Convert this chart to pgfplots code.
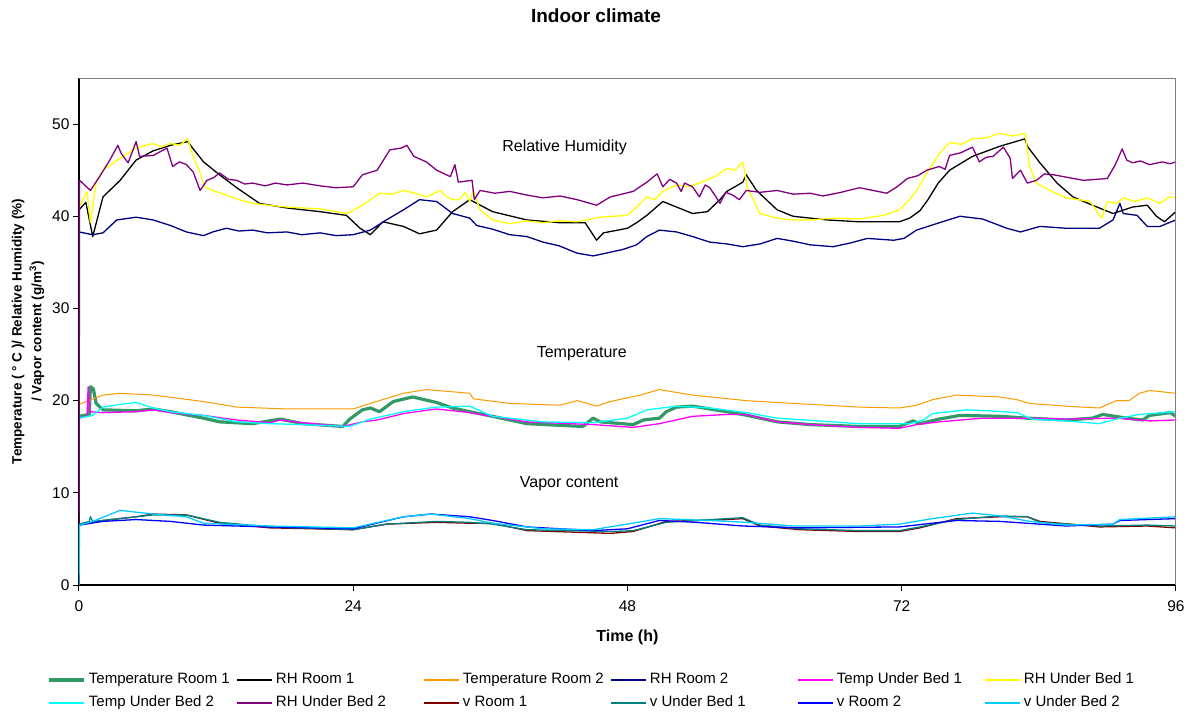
\documentclass[border=0pt]{standalone}
\usepackage{fontspec}
\setmainfont{Liberation Sans}
\usepackage{pgfplots}
\pgfplotsset{compat=1.18}
\usepackage{xcolor}
\definecolor{tempone}{HTML}{339966}
\definecolor{temptwo}{HTML}{FF9900}
\definecolor{rhtwo}{HTML}{000080}
\definecolor{tubone}{HTML}{FF00FF}
\definecolor{rhubone}{HTML}{FFFF00}
\definecolor{tubtwo}{HTML}{00FFFF}
\definecolor{rhubtwo}{HTML}{800080}
\definecolor{vone}{HTML}{800000}
\definecolor{vubone}{HTML}{008080}
\definecolor{vtwo}{HTML}{0000FF}
\definecolor{vubtwo}{HTML}{00CCFF}

\newcommand{\fs}[1]{\fontsize{#1bp}{#1bp}\selectfont}
\newcommand{\lgd}[1]{\makebox[147bp][l]{#1}}

\begin{document}
\begin{tikzpicture}
\useasboundingbox (-79bp,-128bp) rectangle (1113bp,585bp);
\begin{axis}[
  scale only axis,
  width=1097bp, height=507bp,
  anchor=south west, at={(0,0)},
  xmin=0, xmax=96, ymin=0, ymax=55,
  xtick={0,24,48,72,96},
  ytick={0,10,20,30,40,50},
  axis x line*=bottom, axis y line*=left,
  axis line style={-, black, line width=1.1bp},
  tick align=outside,
  major tick length=6bp,
  tick style={black, line width=1bp},
  /pgf/number format/assume math mode=true,
  tick label style={font=\fs{15.5}},
  xticklabel style={yshift=-6bp},
  xlabel={Time (h)},
  xlabel style={font=\bfseries\fs{16}, at={(axis description cs:0.5,-0.1026)}, anchor=center},
  ylabel={Temperature ( ° C )/ Relative Humidity (\%)\\[4bp]/ Vapor content (g/m\textsuperscript{3})},
  ylabel style={font=\bfseries\fs{13.5}, align=center, at={(axis description cs:-0.0465,0.5)}, anchor=center},
  legend columns=6,
  legend style={at={(axis description cs:-0.0292,-0.1735)}, anchor=north west,
    draw=none, fill=none, inner sep=0pt, outer sep=0pt,
    font=\fs{15}, row sep=8.5bp,
    nodes={inner sep=0pt, text height=11bp, text depth=3.5bp},
    cells={anchor=west},
    /tikz/every odd column/.style={column sep=3bp}},
  legend image code/.code={\draw[#1] (0bp,0bp) -- (35bp,0bp);},
  legend image post style={line width=2bp},
  every axis plot/.append style={line width=1.3bp, line join=round},
  clip=true,
]
% Temperature Room 1
\addplot[tempone, line width=3.2bp, legend image post style={line width=4bp}] coordinates {
(0,18.3)(0.9,18.5)(1.0,21.5)(1.25,21.3)(1.5,19.7)(2.1,19.0)(5,18.9)(6.5,19.1)(8,18.8)
(10.9,18.1)(12.3,17.7)(15.2,17.5)(17.6,18.0)(19.6,17.5)(23.1,17.2)(23.7,18.0)(24.8,19.0)
(25.5,19.2)(26.3,18.8)(27.5,19.9)(29.2,20.4)(31.3,19.8)(32.7,19.2)(34.2,18.8)(36.2,18.3)
(39.2,17.5)(44.1,17.2)(45,18.1)(45.6,17.7)(48.5,17.4)(49.4,17.9)(50.8,18.1)(51.4,18.8)
(52.3,19.3)(53.7,19.4)(56.7,18.8)(58.5,18.4)(61.1,17.7)(64,17.4)(68.3,17.2)(71.8,17.2)
(73,17.8)(73.6,17.5)(75.3,18.0)(77.1,18.4)(80.6,18.3)(83,18.1)(86.4,17.9)(88.7,18.1)
(89.6,18.5)(91.7,18.1)(93.1,17.9)(93.7,18.4)(95.5,18.7)(96,18.3)};
\addlegendentry{\lgd{Temperature Room 1}}
% RH Room 1
\addplot[black] coordinates {
(0,40.7)(0.6,41.5)(1.2,37.8)(2.1,42.1)(3.6,43.9)(5,46.1)(6.5,47.1)(8,47.7)(9.5,48.1)
(10.9,45.9)(12.3,44.5)(13.8,43.1)(15.8,41.4)(18.2,40.9)(21.1,40.5)(23.4,40.1)(24.6,38.7)
(25.5,38.0)(26.6,39.4)(28.4,38.9)(29.8,38.1)(31.3,38.5)(32.7,40.5)(34.2,41.8)(36.2,40.5)
(39.2,39.6)(42.1,39.3)(44.3,39.3)(45.3,37.4)(45.9,38.2)(48,38.7)(48.8,39.3)(49.7,40.1)
(51.1,41.6)(52.3,41.0)(53.7,40.3)(55,40.5)(56.1,41.8)(56.7,42.7)(58.1,43.7)(58.4,44.5)
(59.3,42.8)(61.1,40.7)(62.5,40.0)(65.5,39.6)(68.3,39.4)(71.8,39.4)(72.7,39.8)(73.6,40.6)
(74.3,41.8)(75.2,43.6)(76.2,45.0)(78.2,46.5)(80.6,47.6)(82.8,48.4)(83,47.6)(84.1,45.8)
(85.6,43.6)(87,42.1)(88.7,41.2)(90.5,40.3)(92.2,41.0)(93.5,41.2)(94.3,40.0)(95,39.4)(96,40.5)};
\addlegendentry{\lgd{RH Room 1}}
% Temperature Room 2
\addplot[temptwo, line width=1bp] coordinates {
(0,19.6)(2.1,20.6)(3.6,20.8)(6.5,20.6)(10.9,19.9)(13.8,19.3)(18.2,19.1)(24,19.1)(25.5,19.7)
(28.4,20.8)(30.4,21.2)(34.2,20.8)(34.5,20.2)(37.7,19.7)(42.1,19.5)(43.6,20.0)(45.3,19.4)
(46.5,19.9)(49.1,20.6)(50.8,21.2)(53.7,20.6)(58.4,20.0)(62.5,19.7)(68.3,19.3)(71.8,19.2)
(73.3,19.5)(74.7,20.1)(76.8,20.6)(80.6,20.4)(82.1,20.1)(83.2,19.7)(86.4,19.4)(89.3,19.2)
(90.8,20.0)(91.9,20.0)(92.8,20.8)(93.7,21.1)(96,20.8)};
\addlegendentry{\lgd{Temperature Room 2}}
% RH Room 2
\addplot[rhtwo] coordinates {
(0,38.3)(1.2,38.0)(2.1,38.2)(3.3,39.6)(5,39.9)(6.5,39.6)(8,39.0)(9.4,38.3)(10.9,37.9)
(11.7,38.3)(12.9,38.7)(14,38.4)(15.2,38.5)(16.5,38.2)(18.2,38.3)(19.5,38.0)(21.1,38.2)
(22.5,37.9)(24,38.0)(25.5,38.5)(26.9,39.6)(28.4,40.7)(29.8,41.8)(31.3,41.6)(32.7,40.3)
(34.2,39.8)(34.8,39.0)(36.2,38.6)(37.7,38.0)(39.2,37.8)(40.6,37.2)(42,36.8)(43.6,36.0)
(45,35.7)(46.5,36.1)(47.6,36.4)(48.8,36.9)(49.7,37.8)(50.8,38.5)(52.3,38.3)(53.7,37.8)
(55.2,37.2)(56.7,37.0)(58.1,36.7)(59.6,37.0)(61.1,37.6)(62.5,37.3)(64,36.9)(66,36.7)
(67.5,37.1)(69,37.6)(71.3,37.4)(72.2,37.6)(73.3,38.5)(75.3,39.3)(77.1,40.0)(79.1,39.7)
(81.2,38.7)(82.4,38.3)(84.1,38.9)(86.4,38.7)(89.3,38.7)(90.5,39.6)(91.1,41.4)(91.4,40.3)
(92.6,40.1)(93.5,38.9)(94.6,38.9)(96,39.6)};
\addlegendentry{\lgd{RH Room 2}}
% Temp Under Bed 1
\addplot[tubone] coordinates {
(0,18.1)(0.7,18.3)(0.8,21.5)(0.95,18.8)(2.1,18.7)(5,18.8)(6.5,19.0)(8,18.7)(10.9,18.4)
(13.8,17.9)(16.7,17.6)(17.6,17.9)(19.6,17.6)(23.1,17.2)(24.8,17.7)(26.1,17.9)(28.4,18.6)
(31.3,19.1)(34.2,18.7)(36.2,18.3)(39.2,17.7)(45,17.4)(48.5,17.1)(50.8,17.5)(53.7,18.3)
(56.7,18.5)(58.4,18.5)(61.1,17.7)(64,17.4)(68.3,17.1)(71.8,17.0)(73.3,17.4)(75.3,17.7)
(79.1,18.1)(83,18.1)(86.4,18.0)(90.8,18.1)(93.7,17.8)(96,17.9)};
\addlegendentry{\lgd{Temp Under Bed 1}}
% RH Under Bed 1
\addplot[rhubone] coordinates {
(0,41.0)(0.7,42.7)(1.0,39.3)(1.5,43.7)(2.1,45.0)(3.6,46.3)(5,47.4)(6.5,47.9)(7.2,47.5)(8,47.9)
(8.8,47.7)(9.5,48.4)(10,46.5)(10.6,44.7)(11,43.2)(11.7,42.8)(12.9,42.3)(14,41.8)(15.2,41.4)
(16.6,41.2)(18.2,41.0)(19.6,40.9)(21.1,40.8)(23.5,40.3)(24.8,41.2)(26.3,42.5)(27.4,42.4)
(28.4,42.8)(29.4,42.5)(30.4,42.1)(31.6,42.8)(32.1,42.2)(32.7,41.8)(33.3,41.8)(33.8,42.6)
(34.2,41.6)(34.5,42.8)(35.1,40.7)(36.2,39.6)(37.7,39.2)(39.2,39.5)(40.6,39.3)(42.1,39.5)
(43.6,39.4)(45.6,39.9)(48,40.1)(48.8,41.0)(49.7,42.1)(50.4,41.8)(51.1,42.7)(52.3,43.4)
(53.3,43.2)(54.3,43.6)(55.8,44.4)(56.7,45.2)(57.4,45.0)(58.1,45.9)(58.5,43.1)(59.6,40.3)
(61.1,39.8)(62.5,39.6)(64,39.6)(66,39.8)(68.3,39.7)(70.4,40.1)(71.8,40.7)(72.7,41.8)
(73.3,42.8)(74.2,44.7)(75.3,46.8)(76.2,48.0)(77.2,47.8)(78.2,48.4)(79.4,48.5)(80.6,49.0)
(81.7,48.7)(82.8,49.0)(83.2,45.4)(83.8,43.6)(85,42.8)(86.4,42.0)(87.5,41.8)(88.5,41.6)
(89.5,39.8)(90,41.6)(90.8,41.4)(91.4,42.0)(92.4,41.6)(93.5,42.0)(94.6,41.4)(95.4,42.1)(96,42.0)};
\addlegendentry{\lgd{RH Under Bed 1}}
% Temp Under Bed 2
\addplot[tubtwo] coordinates {
(0,18.1)(1.2,18.4)(2.1,19.3)(3.6,19.6)(5,19.8)(6.5,19.2)(8,18.8)(10.9,18.4)(13.8,17.7)
(16.7,17.5)(19.6,17.4)(23.7,17.2)(25.5,18.0)(28.4,18.8)(31.3,19.3)(34.2,19.4)(36.2,18.3)
(40.6,17.7)(45,17.6)(48,18.1)(49.7,19.0)(52.3,19.4)(55.2,19.2)(58.4,18.7)(61.1,18.1)
(68.3,17.5)(72.7,17.5)(73.9,17.9)(74.7,18.6)(77.7,19.0)(79.5,18.9)(82.1,18.7)(83.4,18.0)
(86.4,17.8)(89.3,17.5)(91.1,18.1)(92.8,18.5)(96,18.8)};
\addlegendentry{\lgd{Temp Under Bed 2}}
% RH Under Bed 2
\addplot[rhubtwo] coordinates {
(0,0)(0.05,43.9)(1,42.8)(1.8,44.3)(2.7,46.1)(3.4,47.7)(3.7,46.8)(4.3,45.8)(5,48.1)(5.3,46.5)
(6.5,46.6)(7.1,47.0)(7.7,47.4)(8.2,45.4)(8.8,45.9)(9.4,45.6)(10,44.8)(10.6,42.8)(11.2,43.9)
(11.8,44.2)(12.3,44.7)(13.1,44.0)(13.8,43.9)(14.5,43.5)(15.2,43.6)(16.3,43.3)(17.2,43.6)
(18.2,43.4)(19.6,43.6)(21.1,43.3)(22.5,43.1)(24,43.2)(24.8,44.5)(26.1,45.0)(27.2,47.2)
(28.2,47.4)(28.7,47.7)(29.3,46.5)(30.4,45.9)(31.3,45.0)(32.5,44.3)(32.9,45.6)(33.2,43.7)
(34.4,43.9)(34.6,41.8)(35.1,42.8)(36.4,42.5)(37.7,42.7)(39.2,42.3)(40.6,42.0)(42.1,42.2)
(43.6,41.8)(45.3,41.2)(46.5,42.1)(47.5,42.4)(48.5,42.7)(49.7,43.7)(50.6,44.6)(51.1,43.2)
(51.7,44.0)(52.3,43.6)(52.7,42.7)(53,43.6)(53.7,43.2)(54.3,42.1)(54.8,43.4)(55.2,43.1)
(55.7,42.2)(56.1,41.4)(56.6,42.6)(57.2,42.3)(57.8,41.8)(58.4,42.8)(59.6,42.6)(61.1,42.8)
(62.5,42.4)(64,42.5)(65.1,42.2)(66.7,42.6)(68.3,43.1)(69.5,42.8)(70.7,42.5)(71.6,43.2)
(72.5,44.1)(73.4,44.4)(74.2,45.0)(75.3,45.4)(75.8,45.1)(76.2,46.6)(77.2,46.9)(78.2,47.5)
(78.8,45.9)(79.4,46.4)(80,46.5)(80.9,47.5)(81.5,46.3)(81.7,44.1)(82.4,45.0)(83,43.6)
(83.8,43.9)(84.5,44.6)(85.3,44.5)(86.6,44.2)(87.9,43.9)(89,44.0)(90,44.1)(90.7,45.6)
(91.3,47.3)(91.7,46.1)(92.2,45.8)(92.9,46.0)(93.7,45.6)(94.8,45.9)(95.5,45.7)(96,45.9)};
\addlegendentry{\lgd{RH Under Bed 2}}
% v Room 1
\addplot[vone] coordinates {
(0,6.5)(2.1,7.0)(5,7.4)(6.5,7.7)(9.4,7.6)(12.3,6.7)(16.7,6.2)(24,6.0)(26.9,6.6)(31.3,6.8)
(34.2,6.7)(36.2,6.7)(39.2,5.9)(46.5,5.6)(48.5,5.8)(51.4,6.9)(56.7,7.1)(58.1,7.2)(59.6,6.4)
(63.1,6.0)(68.3,5.8)(71.8,5.8)(73.6,6.2)(76.8,7.2)(80.6,7.4)(83,7.4)(84.1,6.9)(89.3,6.3)
(93.5,6.4)(96,6.2)};
\addlegendentry{\lgd{v Room 1}}
% v Under Bed 1
\addplot[vubone] coordinates {
(0,6.6)(0.9,6.9)(1.0,7.4)(1.2,6.9)(2.1,7.0)(5,7.4)(6.5,7.6)(9.4,7.6)(12.3,6.8)(16.7,6.3)
(24,6.0)(26.9,6.6)(31.3,6.9)(34.2,6.8)(36.2,6.6)(39.2,6.0)(46.5,5.8)(48.5,5.9)(51.4,6.8)
(56.7,7.2)(58.1,7.3)(59.6,6.5)(63.1,6.1)(68.3,5.9)(71.8,5.9)(73.6,6.3)(76.8,7.1)(80.6,7.5)
(83,7.4)(84.1,6.8)(89.3,6.4)(93.5,6.5)(96,6.4)};
\addlegendentry{\lgd{v Under Bed 1}}
% v Room 2
\addplot[vtwo] coordinates {
(0,6.5)(2.1,6.9)(5,7.1)(8,6.9)(10.9,6.5)(16.7,6.3)(24,6.1)(28.4,7.4)(30.8,7.7)(34.2,7.4)
(36.2,7.0)(39.2,6.3)(45,5.9)(48,6.1)(50.8,7.0)(54,6.8)(58.1,6.4)(63.1,6.2)(71.8,6.3)
(76.8,7.0)(80.6,6.9)(86.4,6.4)(90.5,6.6)(91.1,7.0)(96,7.2)};
\addlegendentry{\lgd{v Room 2}}
% v Under Bed 2
\addplot[vubtwo] coordinates {
(0,0)(0.05,6.5)(1.2,6.9)(3.6,8.1)(5,7.9)(6.5,7.7)(9.4,7.4)(10.9,6.7)(16.7,6.4)(24,6.2)
(28.4,7.4)(30.8,7.7)(34.2,7.2)(36.2,6.7)(40.6,6.1)(45,6.0)(49.4,6.9)(50.8,7.2)(55.2,7.0)
(58.4,6.8)(62.5,6.4)(68.3,6.4)(71.8,6.6)(74.7,7.2)(78.2,7.8)(80.6,7.5)(83.2,6.9)(86.4,6.5)
(90.5,6.6)(91.1,7.1)(96,7.4)};
\addlegendentry{\lgd{v Under Bed 2}}

\draw[gray, line width=1.6bp] (rel axis cs:0,1) -- (rel axis cs:1,1) -- (rel axis cs:1,0);
\node[font=\fs{16}] at (axis cs:42.5,47.5) {Relative Humidity};
\node[font=\fs{16}] at (axis cs:44,25.05) {Temperature};
\node[font=\fs{16}] at (axis cs:42.9,10.95) {Vapor content};
\end{axis}
\node[font=\bfseries\fs{19}] at (517bp,569bp) {Indoor climate};
\end{tikzpicture}
\end{document}
